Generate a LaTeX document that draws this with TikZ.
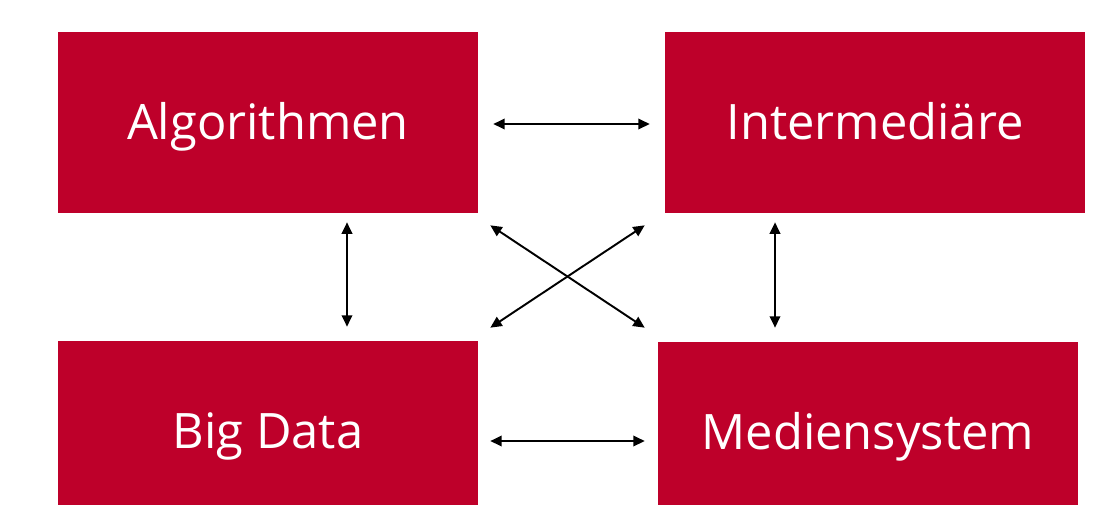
\documentclass[tikz,border=0pt]{standalone}
\usepackage{fontspec}
\setmainfont{Open Sans}
\usetikzlibrary{arrows.meta,calc}
\definecolor{boxred}{RGB}{190,0,42}
\begin{document}
\begin{tikzpicture}[
        x=0.02cm, y=-0.02cm,
        box/.style={fill=boxred, text=white, minimum width=8.4cm, minimum height=3.62cm,
            inner sep=0pt, text height=19.9pt, text depth=1pt, font=\fontsize{27.8}{33}\selectfont},
        arrow/.style={{Triangle[length=6.5pt,width=6pt]}-{Triangle[length=6.5pt,width=6pt]}, line width=1.1pt}
    ]
        \useasboundingbox (0,0) rectangle (1097,504);
        \clip (0,0) rectangle (1097,504);
        % four fields
        \node[box] (algo) at (268,122.5) {Algorithmen};
        \node[box] (inter) at (875,122.5) {Intermediäre};
        \node[box] (data) at (268,431.5) {Big Data};
        \node[box] (medien) at (868,432.5) {Mediensystem};

        \draw[arrow] ($(algo.east)+(15,1.5)$) -- ($(inter.west)+(-15,1.5)$);
        \draw[arrow] ($(data.east)+(12,9.5)$) -- ($(medien.west)+(-13,8.5)$);
        \draw[arrow] ($(algo.south)+(79,9)$) -- ($(data.north)+(79,-14)$);
        \draw[arrow] ($(inter.south)+(-100,9)$) -- ($(medien.north)+(-93,-14)$);
        \draw[arrow] ($(algo.south east)+(12,12)$) -- ($(medien.north west)+(-13,-14)$);
        \draw[arrow] ($(inter.south west)+(-20,12)$) -- ($(data.north east)+(12,-13)$);
    \end{tikzpicture}
\end{document}
